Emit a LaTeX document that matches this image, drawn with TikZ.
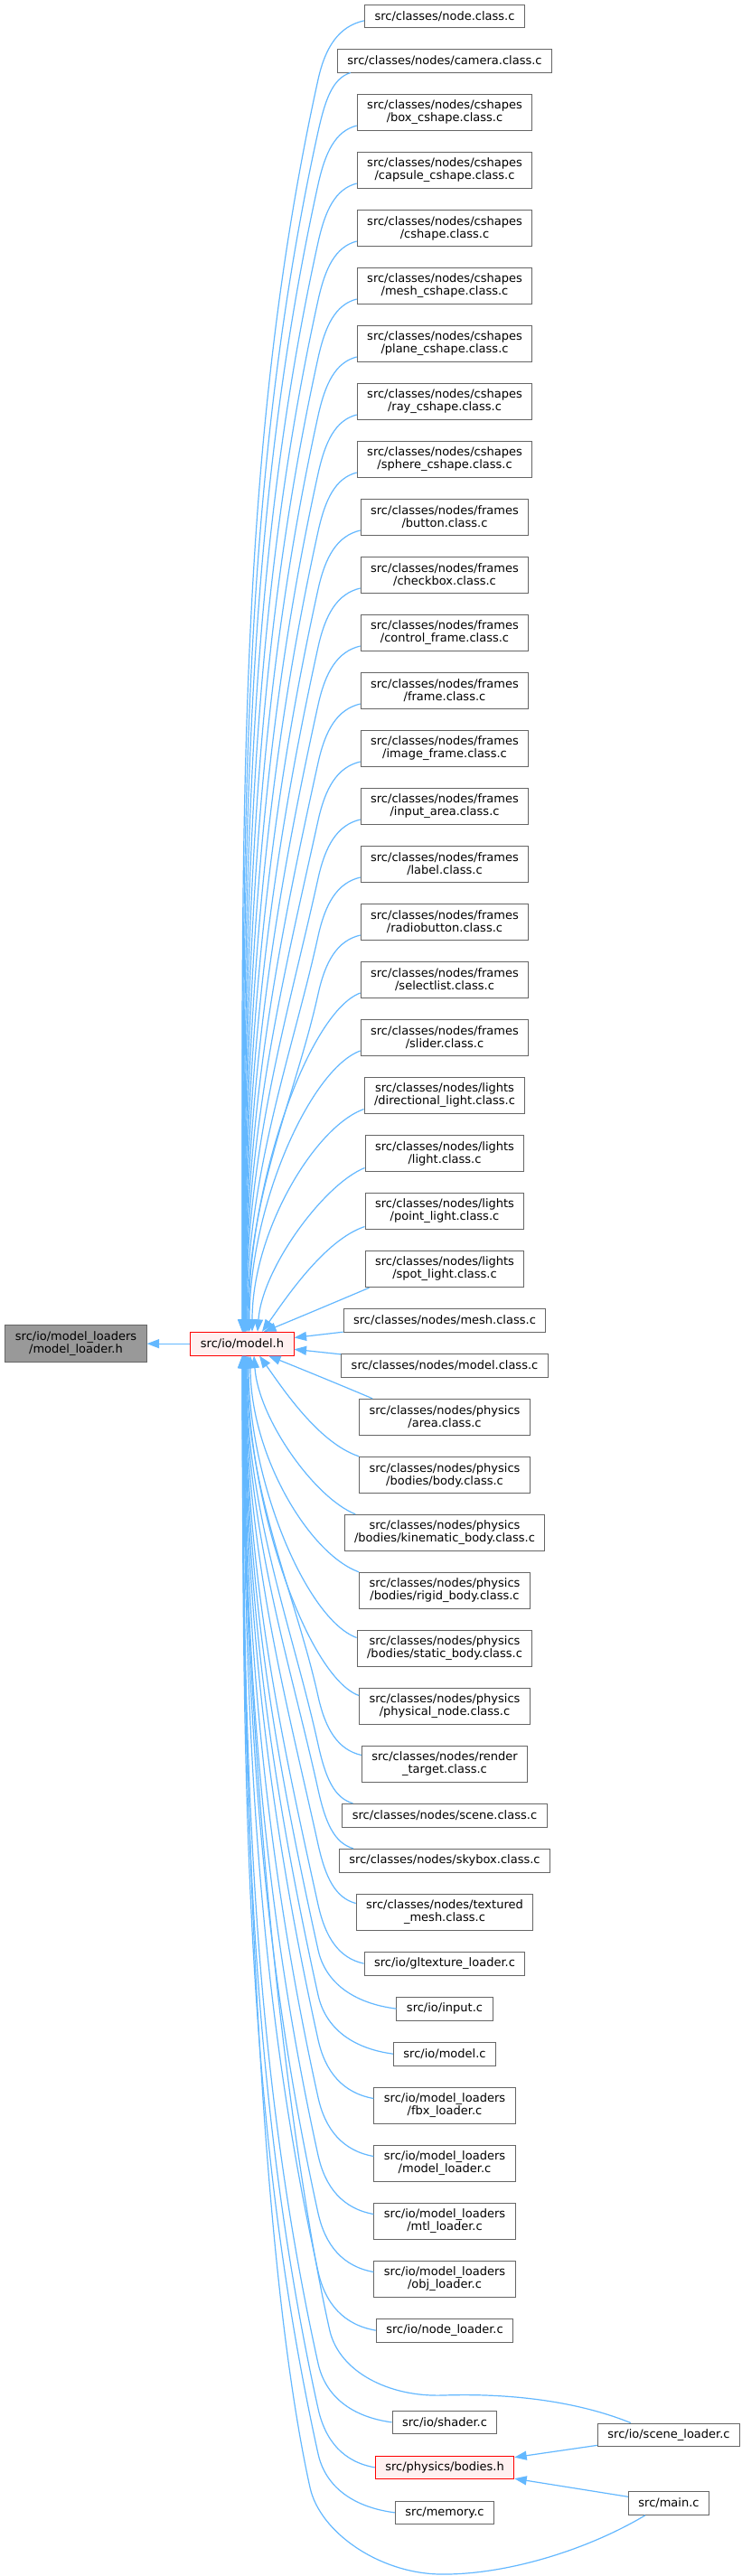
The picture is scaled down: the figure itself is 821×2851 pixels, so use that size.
\documentclass[tikz,border=0pt]{standalone}
\usepackage{fontspec}
\setmainfont{DejaVu Sans}
\usetikzlibrary{calc,arrows.meta}
\definecolor{edgeblue}{HTML}{63B8FF}
\definecolor{boxgray}{HTML}{666666}
\definecolor{hdrfill}{HTML}{999999}
\definecolor{pinkfill}{HTML}{FFF0F0}
\newcommand\upfar[2]{%
  \draw[dep] let \p1=(#1), \n2={1409.3+(\y1)} in
    (\p1) .. controls ($(\p1)!0.55!(352,{\y1-11})$) and (360,{\y1-29}) .. (352,{\y1-65})
    .. controls +({-0.066*\n2},{-0.3*\n2}) and +(0,{0.4*\n2}) .. ([xshift=#2pt]mh.north);}
\newcommand\downfar[2]{%
  \draw[dep] let \p1=(#1), \n2={-1*(\y1)-1565} in
    (\p1) .. controls ($(\p1)!0.55!(352,{\y1+11})$) and (360,{\y1+29}) .. (352,{\y1+65})
    .. controls +({-0.066*\n2},{0.3*\n2}) and +(0,{-0.4*\n2}) .. ([xshift=#2pt]mh.south);}
\begin{document}
\begin{tikzpicture}[x=1pt,y=1pt,
  filebox/.style={draw=boxgray, fill=white, line width=1pt, inner xsep=11pt, inner ysep=1pt,
     minimum height=25.7pt, font=\fontsize{13pt}{14pt}\selectfont, align=center},
  filebox2/.style={filebox, minimum height=40.4pt},
  dep/.style={draw=edgeblue, line width=1.2pt, -{Triangle[length=13.5pt,width=10pt]}}]
\fill[white] (0,0) rectangle (821,-2851);
\useasboundingbox (0,0) rectangle (821,-2851);
% main nodes
\node[filebox2, fill=hdrfill] (ml) at (84,-1487.15) {src/io/model\_loaders\\/model\_loader.h};
\node[filebox, fill=pinkfill, draw=red] (mh) at (268,-1487.15) {src/io/model.h};
% right column
\node[filebox]  (n1)  at (492,-17.85)  {src/classes/node.class.c};
\node[filebox]  (n2)  at (492,-67.15)  {src/classes/nodes/camera.class.c};
\node[filebox2] (n3)  at (492,-124.5)  {src/classes/nodes/cshapes\\/box\_cshape.class.c};
\node[filebox2] (n4)  at (492,-188.5)  {src/classes/nodes/cshapes\\/capsule\_cshape.class.c};
\node[filebox2] (n5)  at (492,-252.5)  {src/classes/nodes/cshapes\\/cshape.class.c};
\node[filebox2] (n6)  at (492,-316.5)  {src/classes/nodes/cshapes\\/mesh\_cshape.class.c};
\node[filebox2] (n7)  at (492,-380.5)  {src/classes/nodes/cshapes\\/plane\_cshape.class.c};
\node[filebox2] (n8)  at (492,-444.5)  {src/classes/nodes/cshapes\\/ray\_cshape.class.c};
\node[filebox2] (n9)  at (492,-508.5)  {src/classes/nodes/cshapes\\/sphere\_cshape.class.c};
\node[filebox2] (n10) at (492,-572.5)  {src/classes/nodes/frames\\/button.class.c};
\node[filebox2] (n11) at (492,-636.5)  {src/classes/nodes/frames\\/checkbox.class.c};
\node[filebox2] (n12) at (492,-700.5)  {src/classes/nodes/frames\\/control\_frame.class.c};
\node[filebox2] (n13) at (492,-764.5)  {src/classes/nodes/frames\\/frame.class.c};
\node[filebox2] (n14) at (492,-828.5)  {src/classes/nodes/frames\\/image\_frame.class.c};
\node[filebox2] (n15) at (492,-892.5)  {src/classes/nodes/frames\\/input\_area.class.c};
\node[filebox2] (n16) at (492,-956.5)  {src/classes/nodes/frames\\/label.class.c};
\node[filebox2] (n17) at (492,-1020.5) {src/classes/nodes/frames\\/radiobutton.class.c};
\node[filebox2] (n18) at (492,-1084.5) {src/classes/nodes/frames\\/selectlist.class.c};
\node[filebox2] (n19) at (492,-1148.5) {src/classes/nodes/frames\\/slider.class.c};
\node[filebox2] (n20) at (492,-1212.5) {src/classes/nodes/lights\\/directional\_light.class.c};
\node[filebox2] (n21) at (492,-1276.5) {src/classes/nodes/lights\\/light.class.c};
\node[filebox2] (n22) at (492,-1340.5) {src/classes/nodes/lights\\/point\_light.class.c};
\node[filebox2] (n23) at (492,-1404.5) {src/classes/nodes/lights\\/spot\_light.class.c};
\node[filebox]  (n24) at (492,-1461.15) {src/classes/nodes/mesh.class.c};
\node[filebox]  (n25) at (492,-1511.15) {src/classes/nodes/model.class.c};
\node[filebox2] (n26) at (492,-1568.5) {src/classes/nodes/physics\\/area.class.c};
\node[filebox2] (n27) at (492,-1632.5) {src/classes/nodes/physics\\/bodies/body.class.c};
\node[filebox2] (n28) at (492,-1696.5) {src/classes/nodes/physics\\/bodies/kinematic\_body.class.c};
\node[filebox2] (n29) at (492,-1760.5) {src/classes/nodes/physics\\/bodies/rigid\_body.class.c};
\node[filebox2] (n30) at (492,-1824.5) {src/classes/nodes/physics\\/bodies/static\_body.class.c};
\node[filebox2] (n31) at (492,-1888.5) {src/classes/nodes/physics\\/physical\_node.class.c};
\node[filebox2] (n32) at (492,-1952.5) {src/classes/nodes/render\\\_target.class.c};
\node[filebox]  (n33) at (492,-2009.15) {src/classes/nodes/scene.class.c};
\node[filebox]  (n34) at (492,-2059.15) {src/classes/nodes/skybox.class.c};
\node[filebox2] (n35) at (492,-2116.5) {src/classes/nodes/textured\\\_mesh.class.c};
\node[filebox]  (n36) at (492,-2173.15) {src/io/gltexture\_loader.c};
\node[filebox]  (n37) at (492,-2223.15) {src/io/input.c};
\node[filebox]  (n38) at (492,-2273.15) {src/io/model.c};
\node[filebox2] (n39) at (492,-2330.5) {src/io/model\_loaders\\/fbx\_loader.c};
\node[filebox2] (n40) at (492,-2394.5) {src/io/model\_loaders\\/model\_loader.c};
\node[filebox2] (n41) at (492,-2458.5) {src/io/model\_loaders\\/mtl\_loader.c};
\node[filebox2] (n42) at (492,-2522.5) {src/io/model\_loaders\\/obj\_loader.c};
\node[filebox]  (n43) at (492,-2579.15) {src/io/node\_loader.c};
\node[filebox]  (n44) at (492,-2680.85) {src/io/shader.c};
\node[filebox, fill=pinkfill, draw=red] (n45) at (492,-2730.85) {src/physics/bodies.h};
\node[filebox]  (n46) at (492,-2780.85) {src/memory.c};
\node[filebox]  (sl)  at (740,-2694.85) {src/io/scene\_loader.c};
\node[filebox]  (mc)  at (740,-2770.45) {src/main.c};
% edges
\draw[dep] (mh) -- (ml);
\upfar{[yshift=-5pt]n1.west}{0}
\upfar{[xshift=15pt]n2.south west}{0.3}
\upfar{[yshift=-14.5pt]n3.west}{0.6}
\upfar{[yshift=-14.5pt]n4.west}{0.9}
\upfar{[yshift=-14.5pt]n5.west}{1.2}
\upfar{[yshift=-14.5pt]n6.west}{1.5}
\upfar{[yshift=-14.5pt]n7.west}{1.8}
\upfar{[yshift=-14.5pt]n8.west}{2.1}
\upfar{[yshift=-14.5pt]n9.west}{2.4}
\upfar{[yshift=-14.5pt]n10.west}{2.7}
\upfar{[yshift=-14.5pt]n11.west}{3.0}
\upfar{[yshift=-14.5pt]n12.west}{3.3}
\upfar{[yshift=-14.5pt]n13.west}{3.6}
\upfar{[yshift=-14.5pt]n14.west}{3.9}
\upfar{[yshift=-14.5pt]n15.west}{4.2}
\upfar{[yshift=-14.5pt]n16.west}{5}
\upfar{[yshift=-14.5pt]n17.west}{6}
\draw[dep] ([yshift=-14.5pt]n18.west) .. controls +(-55,-20) and +(0,170) .. ([xshift=7pt]mh.north);
\draw[dep] ([yshift=-14.5pt]n19.west) .. controls +(-55,-20) and +(0,140) .. ([xshift=8pt]mh.north);
\draw[dep] ([yshift=-15pt]n20.west) .. controls +(-55,-20) and +(0,110) .. ([xshift=11pt]mh.north);
\draw[dep] ([yshift=-16pt]n21.west) .. controls +(-45,-18) and +(5,70) .. ([xshift=17pt]mh.north);
\draw[dep] ([yshift=-17pt]n22.west) .. controls +(-45,-15) and +(25,35) .. ([xshift=22pt]mh.north);
\draw[dep] ([xshift=5pt]n23.south west) .. controls +(-40,-17) and +(25,10) .. ([xshift=24pt]mh.north);
\draw[dep] (n24) -- (mh);
\draw[dep] (n25) -- (mh);
\draw[dep] ([xshift=15pt]n26.north west) .. controls +(-40,17) and +(25,-10) .. ([xshift=29pt]mh.south);
\draw[dep] (n27.north west) .. controls +(-45,15) and +(25,-35) .. ([xshift=19pt]mh.south);
\draw[dep] ([xshift=12.7pt]n28.north west) .. controls +(-45,18) and +(5,-70) .. ([xshift=13pt]mh.south);
\draw[dep] (n29.north west) .. controls +(-55,20) and +(0,-110) .. ([xshift=9pt]mh.south);
\draw[dep] ([yshift=12pt]n30.west) .. controls +(-55,20) and +(0,-140) .. ([xshift=7pt]mh.south);
\draw[dep] ([yshift=12pt]n31.west) .. controls +(-55,20) and +(0,-170) .. ([xshift=6pt]mh.south);
\downfar{[yshift=10pt]n32.west}{5}
\downfar{[xshift=12pt]n33.north west}{4.2}
\downfar{[xshift=16pt]n34.north west}{3.9}
\downfar{[yshift=10pt]n35.west}{3.6}
\downfar{n36.west}{3.3}
\downfar{n37.west}{3.0}
\downfar{n38.west}{2.7}
\downfar{[yshift=8pt]n39.west}{2.4}
\downfar{[yshift=8pt]n40.west}{2.1}
\downfar{[yshift=8pt]n41.west}{1.8}
\downfar{[yshift=8pt]n42.west}{1.5}
\downfar{n43.west}{1.2}
\downfar{n44.west}{0.6}
\downfar{n45.west}{0.45}
\downfar{n46.west}{0.3}
\draw[dep] ([xshift=37pt]sl.north west) .. controls (650,-2662) and (580,-2648) .. (490,-2651)
   .. controls (430,-2653) and (376,-2625) .. (365,-2580)
   .. controls (320,-2380) and +(0,-450) .. ([xshift=0.9pt]mh.south);
\draw[dep] ([xshift=19pt]mc.south west) .. controls (650,-2822) and (560,-2850) .. (487,-2849)
   .. controls (420,-2848) and (354,-2803) .. (343,-2753)
   .. controls (288,-2503) and +(0,-500) .. (mh.south);
\draw[dep] (sl) -- (n45);
\draw[dep] (mc) -- (n45);
\end{tikzpicture}
\end{document}
